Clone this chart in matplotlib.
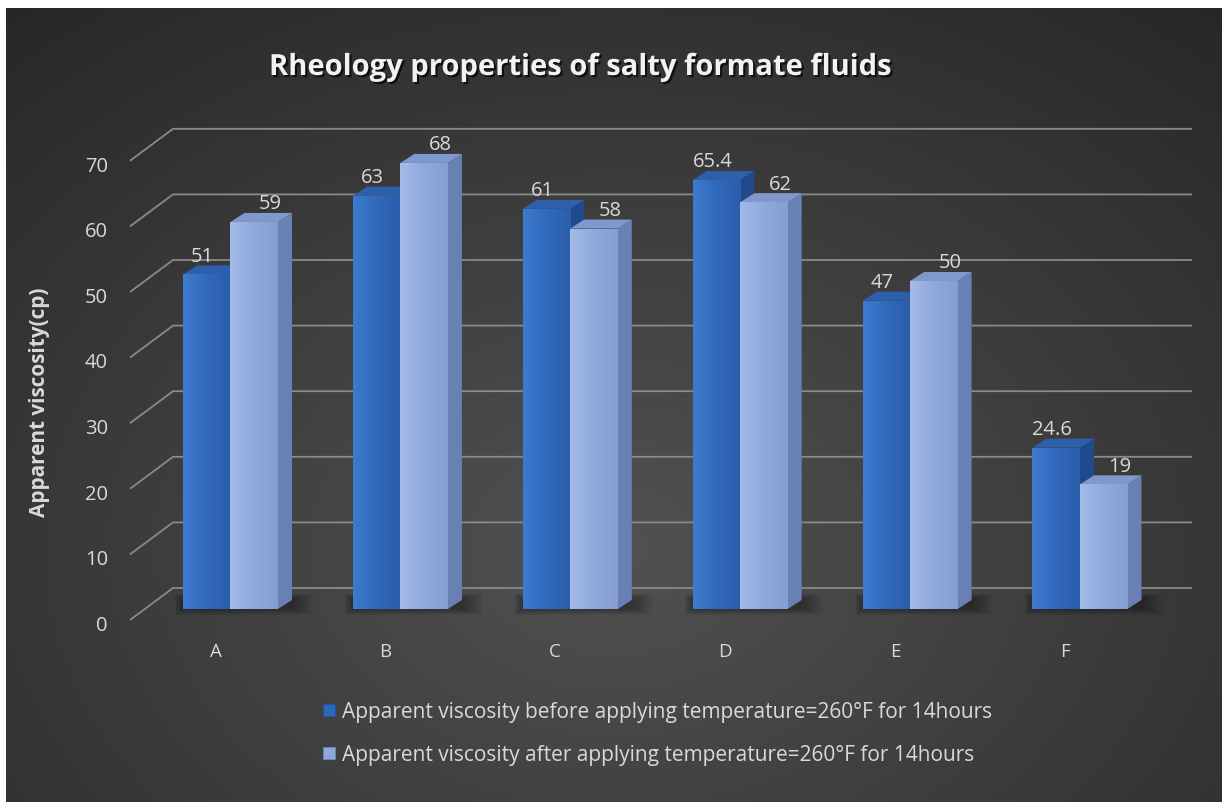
import numpy as np
import matplotlib
matplotlib.use('Agg')
import matplotlib.pyplot as plt
from matplotlib.patches import Polygon
from matplotlib.lines import Line2D
from matplotlib.colors import LinearSegmentedColormap
import matplotlib.patheffects as pe

# ---------------- data ----------------
categories = ['A', 'B', 'C', 'D', 'E', 'F']
before = [51, 63, 61, 65.4, 47, 24.6]
after = [59, 68, 58, 62, 50, 19]
before_labels = ['51', '63', '61', '65.4', '47', '24.6']
after_labels = ['59', '68', '58', '62', '50', '19']
yticks = [0, 10, 20, 30, 40, 50, 60, 70]
title = 'Rheology properties of salty formate fluids'
ylabel = 'Apparent viscosity(cp)'
legend_labels = ['Apparent viscosity before applying temperature=260°F for 14hours',
                 'Apparent viscosity after applying temperature=260°F for 14hours']

# ---------------- style ----------------
plt.rcParams['font.family'] = ['Open Sans', 'DejaVu Sans']
W, H = 1222, 803
PX = 169.9      # pixels per category unit
PY = 6.56       # pixels per value unit
X0 = 230.5      # pixel column of category 0 centre
Y0 = 610.0      # pixel row of value 0 (front plane)
TXT = '#d9d9d9'
GRID = '#8a8a8a'

fig = plt.figure(figsize=(W / 100, H / 100), dpi=100, facecolor='white')

# background radial gradient
bg = fig.add_axes([6 / W, 0, 1 - 6 / W, 1 - 9 / H])
bg.axis('off')
xx, yy = np.meshgrid(np.linspace(0, 1, 500), np.linspace(0, 1, 330))
r = np.sqrt(((xx - 0.5) / 0.75) ** 2 + ((yy - 0.32) / 0.85) ** 2)
val = np.clip(0.32 - 0.16 * r, 0.14, 1)
bg.imshow(np.dstack([val, val, val]), origin='lower', extent=[0, 1, 0, 1], aspect='auto',
          interpolation='bilinear')
bg.set_xlim(0, 1)
bg.set_ylim(0, 1)

ax = fig.add_axes([0, 0, 1, 1])
ax.patch.set_alpha(0)
ax.axis('off')
xlim = (-X0 / PX, (W - X0) / PX)
ylim = ((Y0 - H) / PY, Y0 / PY)

bw = 47.5 / PX
ddx = 14 / PX
ddy = 9 / PY

# gridlines (diagonal + back wall)
xd0 = (130 - X0) / PX
xd1 = (173 - X0) / PX
xe = (1192 - X0) / PX
for v in yticks:
    ax.plot([xd0, xd1, xe], [v - 11 / PY, v + 21 / PY, v + 21 / PY], color=GRID, lw=1.3,
            zorder=1, solid_capstyle='butt')
    ax.text((108 - X0) / PX, v - 20.75 / PY, str(v), ha='right', va='baseline',
            color=TXT, fontsize=14.5)

dark_cmap = LinearSegmentedColormap.from_list('d', ['#3d7bcf', '#3169bb', '#2b5eab'])
light_cmap = LinearSegmentedColormap.from_list('l', ['#a4bbe8', '#8fa9dc', '#869fd2'])
grad = np.linspace(0, 1, 64).reshape(1, -1)

idx = np.arange(len(categories))


def draw_bar_3d(xc, v, cmap, top_c, side_c, z):
    bars = ax.bar([xc], [v], width=bw, color=cmap(0.5), zorder=z + 0.5, linewidth=0)
    p = bars.patches[0]
    im = ax.imshow(grad, extent=[xc - bw / 2, xc + bw / 2, 0, v], aspect='auto',
                   cmap=cmap, zorder=z + 0.6, interpolation='bilinear')
    im.set_clip_path(p)
    x1 = xc + bw / 2
    x0 = xc - bw / 2
    side = Polygon([[x1, 0], [x1 + ddx, ddy], [x1 + ddx, v + ddy], [x1, v]],
                   closed=True, facecolor=side_c, edgecolor='none', zorder=z)
    top = Polygon([[x0, v], [x0 + ddx, v + ddy], [x1 + ddx, v + ddy], [x1, v]],
                  closed=True, facecolor=top_c, edgecolor='none', zorder=z)
    ax.add_patch(side)
    ax.add_patch(top)


for i in idx:
    # soft floor shadow
    for k in range(7):
        e = (2 + 3 * k) / PX
        shadow = Polygon([[i - bw - e * 0.4, -k * 0.15],
                          [i + bw + ddx + e, -k * 0.15],
                          [i + bw + ddx + e, ddy + 0.3 + k * 0.1],
                          [i - bw - e * 0.4, ddy + 0.3 + k * 0.1]],
                         closed=True, facecolor='black', alpha=0.05, edgecolor='none',
                         zorder=1.5)
        ax.add_patch(shadow)
    draw_bar_3d(i - bw / 2, before[i], dark_cmap, '#2d5fab', '#1f4a8c', 2)
    draw_bar_3d(i + bw / 2, after[i], light_cmap, '#8099cc', '#6880b4', 4)
    ax.text(i - bw / 2 - 4 / PX, before[i] + 2.1, before_labels[i], ha='center',
            va='baseline', color=TXT, fontsize=14.5, zorder=10)
    ax.text(i + bw / 2 + 16 / PX, after[i] + 2.1, after_labels[i], ha='center',
            va='baseline', color=TXT, fontsize=14.5, zorder=10)
    ax.text(i - 15 / PX, -47 / PY, categories[i], ha='center', va='baseline',
            color=TXT, fontsize=13.5)

ax.set_xlim(*xlim)
ax.set_ylim(*ylim)

# title
fig.text(580 / W, 1 - 76 / H, title, ha='center', va='baseline', fontsize=21,
         fontweight='bold', color='#f2f2f2',
         path_effects=[pe.SimplePatchShadow(offset=(1.5, -1.5), shadow_rgbFace='black',
                                            alpha=0.7),
                       pe.Normal()])

# y axis title
t_ylab = fig.text(40 / W, 1 - 402 / H, ylabel, rotation=90, ha='center', va='center',
                  fontsize=14, fontweight='bold', color=TXT)

# legend
handles = [Line2D([], [], linestyle='', marker='s', markersize=8, markerfacecolor='#2e67b8',
                  markeredgecolor='#24559c', markeredgewidth=0.6),
           Line2D([], [], linestyle='', marker='s', markersize=8, markerfacecolor='#8fa8da',
                  markeredgecolor='#6f88bb', markeredgewidth=0.6)]
leg = fig.legend(handles, legend_labels, loc='upper left',
                 bbox_to_anchor=(322.7 / W, 1 - 702 / H),
                 frameon=False, fontsize=15, labelcolor=TXT, handlelength=0.65,
                 handletextpad=0.3, labelspacing=1.05, borderpad=0, borderaxespad=0)

# fit axis-title length to the reference extent
fig.canvas.draw()
r_ = fig.canvas.get_renderer()
hy = t_ylab.get_window_extent(r_).height
t_ylab.set_fontsize(14 * 230 / hy)

fig.savefig('out.png', dpi=100, facecolor='white')
